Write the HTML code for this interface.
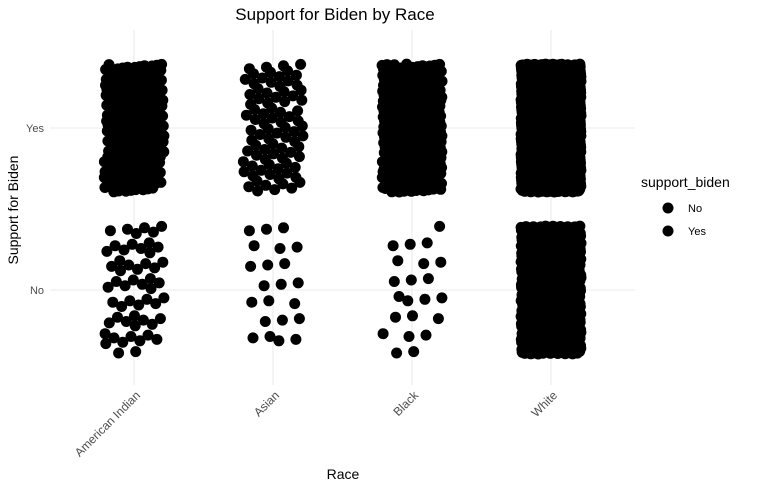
<!DOCTYPE html>
<html><head><meta charset="utf-8">
<style>
html,body{margin:0;padding:0;background:#fff;}
svg{display:block;font-family:"Liberation Sans",sans-serif;}
</style></head>
<body>
<svg id="chart" width="763" height="490" viewBox="0 0 763 490">
  <text x="335" y="20" text-anchor="middle" font-size="17" fill="#000">Support for Biden by Race</text>
  <g id="grid"></g>
  <g id="points"></g>
  <g id="yticks"></g>
  <g id="xticks"></g>
  <text x="343" y="479" text-anchor="middle" font-size="14" fill="#000">Race</text>
  <text transform="translate(18,210) rotate(-90)" text-anchor="middle" font-size="14" fill="#000">Support for Biden</text>
  <g>
    <text x="641" y="187" font-size="14" fill="#000">support_biden</text>
    <g>
      <circle cx="668" cy="208" r="5.5" fill="#000"></circle>
      <text x="688" y="212" font-size="11" fill="#000">No</text>
    </g>
    <g>
      <circle cx="668" cy="231" r="5.5" fill="#000"></circle>
      <text x="688" y="235" font-size="11" fill="#000">Yes</text>
    </g>
  </g>
</svg>
<script>
const categories = ["American Indian", "Asian", "Black", "White"];
const responses = ["No", "Yes"];
const countsYes = [230, 85, 520, 2000];
const countsNo = [55, 22, 22, 1200];

const NS = "http://www.w3.org/2000/svg";
const plotLeft = 50, plotRight = 635;
const xScale = i => 134 + i * 139;
const yScale = r => ({ "No": 290, "Yes": 128 })[r];
const jitterW = 30, jitterH = 64;

const grid = document.getElementById('grid');
function line(x1,y1,x2,y2){
  const l = document.createElementNS(NS,'line');
  l.setAttribute('x1',x1);l.setAttribute('y1',y1);l.setAttribute('x2',x2);l.setAttribute('y2',y2);
  l.setAttribute('stroke','#ebebeb');l.setAttribute('stroke-width','1.1');
  return l;
}
responses.forEach(r=>{
  const l = line(plotLeft, yScale(r), plotRight, yScale(r));
  
  
  grid.appendChild(l);
  const t = document.createElementNS(NS,'text');
  t.setAttribute('x', 44); t.setAttribute('y', yScale(r)+4);
  t.setAttribute('text-anchor','end'); t.setAttribute('font-size','11'); t.setAttribute('fill','#4d4d4d');
  t.textContent = r;
  
  
  document.getElementById('yticks').appendChild(t);
});
categories.forEach((c,i)=>{
  const l = line(xScale(i), 30, xScale(i), 385);
  
  
  grid.appendChild(l);
  const t = document.createElementNS(NS,'text');
  t.setAttribute('transform', 'translate(' + (xScale(i)+7) + ',396) rotate(-45)');
  t.setAttribute('text-anchor','end'); t.setAttribute('font-size','12'); t.setAttribute('fill','#4d4d4d');
  t.textContent = c;
  
  
  document.getElementById('xticks').appendChild(t);
});

// deterministic low-discrepancy jitter (R2 sequence)
const g = 1.32471795724474602596;
const a1 = 1/g, a2 = 1/(g*g);
const pts = document.getElementById('points');
function drawGroup(i, r, n, seed){
  for(let k=0;k<n;k++){
    const u = (0.5 + a1*(k+seed)) % 1;
    const v = (0.5 + a2*(k+seed)) % 1;
    const c = document.createElementNS(NS,'circle');
    c.setAttribute('cx', (xScale(i) + (u*2-1)*jitterW).toFixed(1));
    c.setAttribute('cy', (yScale(r) + (v*2-1)*jitterH).toFixed(1));
    c.setAttribute('r', '5.5');
    c.setAttribute('fill', '#000');
    
    
    pts.appendChild(c);
  }
}
categories.forEach((c,i)=>{
  drawGroup(i, "Yes", countsYes[i], 7 + i*13);
  drawGroup(i, "No", countsNo[i], 3 + i*17);
});
</script>
</body></html>
